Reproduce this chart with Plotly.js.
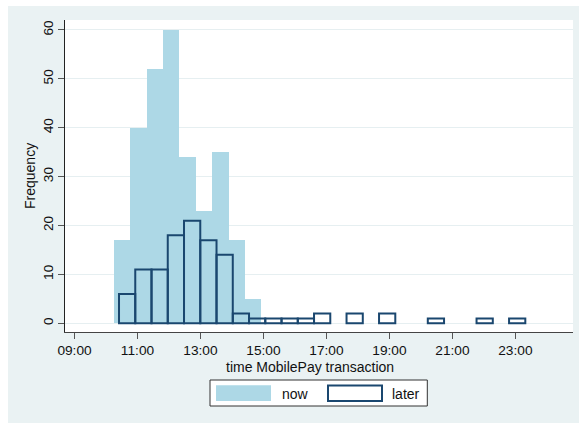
<!DOCTYPE html>
<html>
<head>
<meta charset="utf-8">
<script src="https://cdn.plot.ly/plotly-3.0.1.min.js"></script>
<style>
html,body{margin:0;padding:0;background:#ffffff;}
#chart{width:579px;height:424px;}
</style>
</head>
<body>
<div id="chart"></div>
<script>
// ---- data (time in hours of day) ----
const nowBinStart = 10.254;
const nowBinWidth = 0.5198;
const nowCounts = [17, 40, 52, 60, 34, 23, 35, 17, 5];

const laterBinStart = 10.413;
const laterBinWidth = 0.5161;
const laterCounts = [6, 11, 11, 18, 21, 17, 14, 2, 1, 1, 1, 1, 2, 0, 2, 0, 2, 0, 0, 1, 0, 0, 1, 0, 1];

const xTickVals = [9, 11, 13, 15, 17, 19, 21, 23];
const xTickText = ['09:00', '11:00', '13:00', '15:00', '17:00', '19:00', '21:00', '23:00'];
const yTickVals = [0, 10, 20, 30, 40, 50, 60];

const seriesNames = ['now', 'later'];
const xTitle = 'time MobilePay transaction';
const yTitle = 'Frequency';

// ---- build bars ----
function centers(start, width, counts) {
  const xs = [], ys = [];
  counts.forEach((c, i) => { if (c > 0) { xs.push(start + (i + 0.5) * width); ys.push(c); } });
  return {xs, ys};
}
const nowB = centers(nowBinStart, nowBinWidth, nowCounts);
const laterB = centers(laterBinStart, laterBinWidth, laterCounts);

const NAVY = '#1a476f';
const LTBLUE = '#add8e6';
const BG = '#eaf2f3';
const FONT = 'Liberation Sans, Arial, sans-serif';

const traces = [
  {type: 'bar', name: seriesNames[0], x: nowB.xs, y: nowB.ys, width: nowBinWidth,
   marker: {color: LTBLUE, line: {width: 0}}, showlegend: false, hoverinfo: 'x+y'},
  {type: 'bar', name: seriesNames[1], x: laterB.xs, y: laterB.ys, width: laterBinWidth,
   marker: {color: 'rgba(0,0,0,0)', line: {color: NAVY, width: 2}}, showlegend: false, hoverinfo: 'x+y'}
];

// ---- layout helpers (pixel -> paper) ----
const L = 65, R = 6, T = 20, B = 92, W = 579, H = 424;
const PW = W - L - R, PH = H - T - B;
const px = v => (v - L) / PW;
const py = v => (H - B - v) / PH;

const shapes = [
  // graph region
  {type: 'rect', xref: 'paper', yref: 'paper', layer: 'below',
   x0: px(8), x1: px(579), y0: py(423), y1: py(6), fillcolor: BG, line: {width: 0}},
  // plot region
  {type: 'rect', xref: 'paper', yref: 'paper', layer: 'below',
   x0: px(65), x1: px(573), y0: py(332), y1: py(20), fillcolor: '#ffffff', line: {width: 0}},
  // legend box
  {type: 'rect', xref: 'paper', yref: 'paper',
   x0: px(210), x1: px(427.3), y0: py(406), y1: py(380), fillcolor: '#ffffff', line: {color: '#333333', width: 1}},
  // legend swatch now
  {type: 'rect', xref: 'paper', yref: 'paper',
   x0: px(216), x1: px(271), y0: py(401), y1: py(385.3), fillcolor: LTBLUE, line: {width: 0}},
  // legend swatch later
  {type: 'rect', xref: 'paper', yref: 'paper',
   x0: px(328), x1: px(382), y0: py(401), y1: py(385.5), fillcolor: '#ffffff', line: {color: NAVY, width: 2}}
];

const annotations = [
  {xref: 'paper', yref: 'paper', x: px(310), y: py(366.5), text: xTitle, showarrow: false,
   xanchor: 'center', yanchor: 'middle', font: {family: FONT, size: 14, color: '#111'}},
  {xref: 'paper', yref: 'paper', x: px(30), y: py(176), text: yTitle, showarrow: false, textangle: -90,
   xanchor: 'center', yanchor: 'middle', font: {family: FONT, size: 14, color: '#111'}},
  {xref: 'paper', yref: 'paper', x: px(280), y: py(393.5), text: seriesNames[0], showarrow: false,
   xanchor: 'left', yanchor: 'middle', font: {family: FONT, size: 14, color: '#111'}},
  {xref: 'paper', yref: 'paper', x: px(390), y: py(393.5), text: seriesNames[1], showarrow: false,
   xanchor: 'left', yanchor: 'middle', font: {family: FONT, size: 14, color: '#111'}}
];

const layout = {
  width: W, height: H,
  margin: {l: L, r: R, t: T, b: B, pad: 0},
  paper_bgcolor: '#ffffff',
  plot_bgcolor: 'rgba(0,0,0,0)',
  barmode: 'overlay',
  bargap: 0,
  showlegend: false,
  font: {family: FONT, size: 14, color: '#111'},
  xaxis: {
    range: [8.698, 24.83], tickmode: 'array', tickvals: xTickVals, ticktext: xTickText,
    showgrid: false, zeroline: false, showline: true, linecolor: '#444', linewidth: 1,
    ticks: 'outside', ticklen: 6, tickcolor: '#555', tickwidth: 1,
    tickfont: {family: FONT, size: 13.7, color: '#111'}, fixedrange: true
  },
  yaxis: {
    range: [-1.78, 62.04], tickmode: 'array', tickvals: yTickVals,
    showgrid: true, gridcolor: '#e6eff1', gridwidth: 1, zeroline: false,
    showline: true, linecolor: '#222', linewidth: 1,
    ticks: 'outside', ticklen: 6, tickcolor: '#555', tickwidth: 1, tickangle: -90,
    tickfont: {family: FONT, size: 13.7, color: '#111'}, fixedrange: true
  },
  shapes: shapes,
  annotations: annotations
};

Plotly.newPlot('chart', traces, layout, {displayModeBar: false, staticPlot: true});
</script>
</body>
</html>
